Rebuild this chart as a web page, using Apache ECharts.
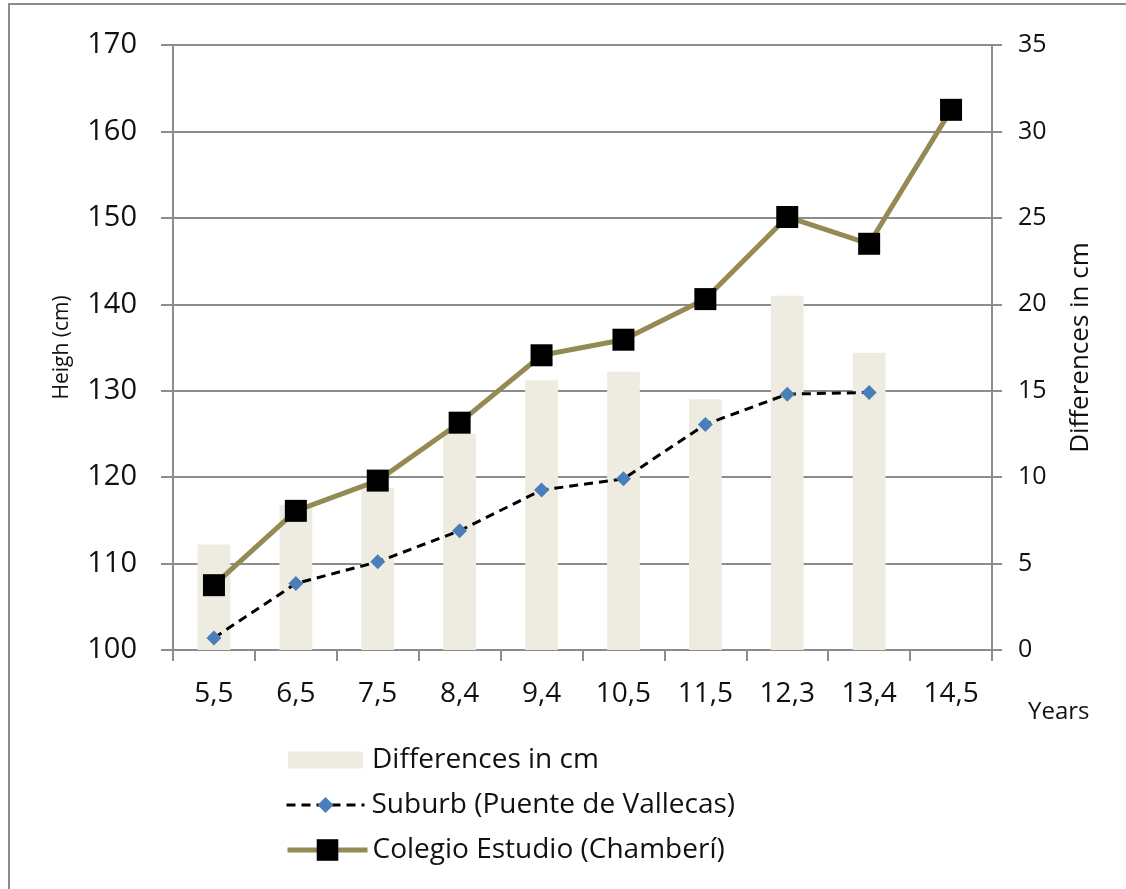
<!DOCTYPE html>
<html>
<head>
<meta charset="utf-8">
<script src="https://cdn.jsdelivr.net/npm/echarts@6/dist/echarts.min.js"></script>
<style>
  html, body { margin: 0; padding: 0; background: #fff; }
  #chart { width: 1126px; height: 889px; }
</style>
</head>
<body>
<div id="chart"></div>
<script>
// Age groups (years)
const ages = ['5,5', '6,5', '7,5', '8,4', '9,4', '10,5', '11,5', '12,3', '13,4', '14,5'];
// Mean height, Colegio Estudio (Chamberí), cm
const colegio = [107.5, 116.1, 119.6, 126.3, 134.1, 135.9, 140.6, 150.1, 147.0, 162.5];
// Mean height, suburb (Puente de Vallecas), cm
const suburb = [101.4, 107.7, 110.2, 113.8, 118.5, 119.8, 126.1, 129.6, 129.8, null];
// Height difference between the two groups, cm
const differences = [6.1, 8.4, 9.4, 12.5, 15.6, 16.1, 14.5, 20.5, 17.2, null];

const gridColor = '#8c8c8c';
const textColor = '#111';
const textFont = '"Open Sans", "Noto Sans", sans-serif';

function legendText(padLeft) {
  return { fontSize: 28, fontFamily: textFont, color: textColor, padding: [0, 0, 0, padLeft] };
}

const chart = echarts.init(document.getElementById('chart'), null, { renderer: 'canvas' });

chart.setOption({
  animation: false,
  backgroundColor: '#fff',
  grid: { left: 173, right: 134, top: 45, bottom: 239 },
  graphic: [
    {
      type: 'rect',
      shape: { x: 9, y: 4, width: 1130, height: 900 },
      style: { fill: 'none', stroke: '#8c8c8c', lineWidth: 2 },
      silent: true
    },
    {
      type: 'text',
      left: 1028, top: 700,
      style: { text: 'Years', font: '24px ' + textFont, fill: textColor }
    }
  ],
  // one legend block per row so each icon keeps its own size
  legend: [
    {
      left: 288, top: 746, padding: 0,
      itemWidth: 75, itemHeight: 17,
      textStyle: legendText(4),
      data: [{ name: 'Differences in cm', icon: 'rect' }]
    },
    {
      left: 285, top: 791, padding: 0,
      itemWidth: 78, itemHeight: 20,
      lineStyle: { width: 3 },
      textStyle: legendText(2),
      data: ['Suburb (Puente de Vallecas)']
    },
    {
      left: 285, top: 836, padding: 0,
      itemWidth: 80, itemHeight: 27,
      lineStyle: { width: 5 },
      textStyle: legendText(0),
      data: ['Colegio Estudio (Chamberí)']
    }
  ],
  xAxis: {
    type: 'category',
    data: ages,
    boundaryGap: true,
    axisLine: { lineStyle: { color: gridColor, width: 2 } },
    axisTick: { show: true, length: 11, lineStyle: { color: gridColor, width: 2 } },
    axisLabel: { fontSize: 28, fontFamily: textFont, color: textColor, margin: 30 }
  },
  yAxis: [
    {
      type: 'value',
      min: 100, max: 170, interval: 10,
      name: 'Heigh (cm)',
      nameLocation: 'middle',
      nameRotate: 90,
      nameGap: 100,
      nameTextStyle: { fontSize: 21, fontFamily: textFont, color: textColor },
      axisLine: { show: true, lineStyle: { color: gridColor, width: 2 } },
      axisTick: { show: true, length: 12, lineStyle: { color: gridColor, width: 2 } },
      splitLine: { show: true, lineStyle: { color: gridColor, width: 2 } },
      axisLabel: { fontSize: 29, fontFamily: textFont, color: textColor, margin: 36 }
    },
    {
      type: 'value',
      min: 0, max: 35, interval: 5,
      position: 'right',
      name: 'Differences in cm',
      nameLocation: 'middle',
      nameRotate: 90,
      nameGap: 76,
      nameTextStyle: { fontSize: 26, fontFamily: textFont, color: textColor },
      axisLine: { show: true, lineStyle: { color: gridColor, width: 2 } },
      axisTick: { show: true, length: 10, lineStyle: { color: gridColor, width: 2 } },
      splitLine: { show: false },
      axisLabel: { fontSize: 25, fontFamily: textFont, color: textColor, margin: 26 }
    }
  ],
  series: [
    {
      name: 'Differences in cm',
      type: 'bar',
      yAxisIndex: 1,
      data: differences,
      barWidth: '40%',
      itemStyle: { color: '#eeebe0' },
      z: 1
    },
    {
      name: 'Suburb (Puente de Vallecas)',
      type: 'line',
      yAxisIndex: 0,
      data: suburb,
      symbol: 'diamond',
      symbolSize: 15,
      lineStyle: { color: '#000', width: 3, type: [9, 6] },
      itemStyle: { color: '#4a7ebb', borderWidth: 0 },
      z: 3
    },
    {
      name: 'Colegio Estudio (Chamberí)',
      type: 'line',
      yAxisIndex: 0,
      data: colegio,
      symbol: 'rect',
      symbolSize: 22,
      lineStyle: { color: '#948a54', width: 5 },
      itemStyle: { color: '#000', borderWidth: 0 },
      z: 4
    }
  ]
});
</script>
</body>
</html>
